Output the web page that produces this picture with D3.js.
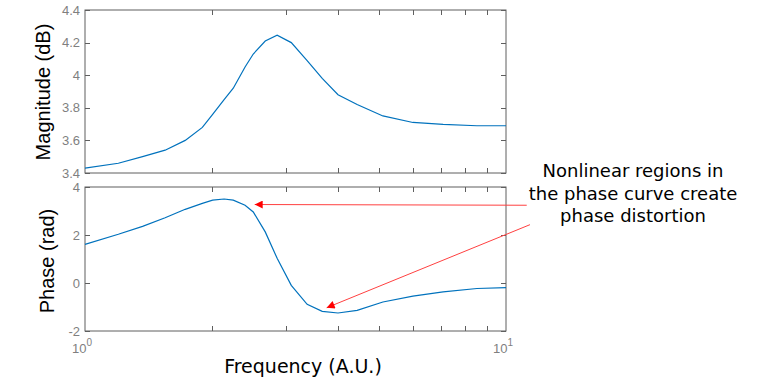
<!DOCTYPE html>
<html>
<head>
<meta charset="utf-8">
<script src="https://cdn.jsdelivr.net/npm/d3@7"></script>
<style>
  body { margin: 0; background: #fff; }
  .tick-label { font-family: "Liberation Sans", Arial, sans-serif; font-size: 13px; fill: #7f7f7f; }
  .ax-title { font-family: "Liberation Sans", Arial, sans-serif; font-size: 20px; fill: #000; }
  .note { font-family: "DejaVu Sans", Verdana, sans-serif; font-size: 18px; fill: #000; }
</style>
</head>
<body>
<div id="chart"></div>
<script>
// Data
var freq = [1, 1.2, 1.37, 1.55, 1.73, 1.9, 2.01, 2.14, 2.25, 2.4, 2.51, 2.68, 2.86,
  3.09, 3.37, 3.66, 3.99, 4.43, 5.1, 6.01, 7.09, 8.53, 10];
var magnitude = [3.43, 3.46, 3.50, 3.54, 3.60, 3.68, 3.76, 3.85, 3.92, 4.05, 4.13, 4.21, 4.245,
  4.20, 4.09, 3.98, 3.88, 3.82, 3.75, 3.71, 3.698, 3.69, 3.69];
var phase = [1.61, 2.03, 2.36, 2.72, 3.07, 3.32, 3.45, 3.50, 3.45, 3.24, 2.96, 2.13, 1.03,
  -0.10, -0.89, -1.18, -1.25, -1.14, -0.79, -0.55, -0.37, -0.23, -0.19];

var magTicks = [3.4, 3.6, 3.8, 4, 4.2, 4.4];
var phaseTicks = [-2, 0, 2, 4];
var minorFreqTicks = [2, 3, 4, 5, 6, 7, 8, 9];
var decadeLabels = [{ v: 1, exp: "0" }, { v: 10, exp: "1" }];

var noteLines = ["Nonlinear regions in", "the phase curve create", "phase distortion"];
// arrows: from the note to the curve, in (frequency, phase) units
var arrows = [
  { from: [11.2, 3.24], to: [2.53, 3.27] },
  { from: [11.4, 2.43], to: [3.75, -1.03] }
];

// Define SVG area dimensions
var svgWidth = 760;
var svgHeight = 389;

var plotLeft = 85;
var plotRight = 506;

var svg = d3.select("#chart")
  .append("svg")
  .attr("width", svgWidth)
  .attr("height", svgHeight);

var defs = svg.append("defs");
defs.append("marker")
  .attr("id", "head")
  .attr("viewBox", "0 0 10 10")
  .attr("refX", 10)
  .attr("refY", 5)
  .attr("markerUnits", "userSpaceOnUse")
  .attr("markerWidth", 10)
  .attr("markerHeight", 8)
  .attr("orient", "auto")
  .append("path")
  .attr("d", "M0,0 L10,5 L0,10 Z")
  .attr("fill", "#ff0000");

var xScale = d3.scaleLog()
  .domain([1, 10])
  .range([plotLeft, plotRight]);

// Draws one panel: box, inward ticks, y labels, curve
function drawPanel(top, bottom, yDomain, yTicks, values, fmt) {
  var yScale = d3.scaleLinear()
    .domain(yDomain)
    .range([bottom, top]);

  var g = svg.append("g");
  var tickLen = 5;

  g.append("rect")
    .attr("x", plotLeft)
    .attr("y", top)
    .attr("width", plotRight - plotLeft)
    .attr("height", bottom - top)
    .attr("fill", "none")
    .attr("stroke", "#5f5f5f")
    .attr("stroke-width", 1);

  // x minor ticks on bottom and top edges
  minorFreqTicks.forEach(function(f) {
    var x = Math.round(xScale(f)) + 0.5;
    g.append("line")
      .attr("x1", x).attr("x2", x)
      .attr("y1", bottom).attr("y2", bottom - tickLen)
      .attr("stroke", "#5f5f5f");
    g.append("line")
      .attr("x1", x).attr("x2", x)
      .attr("y1", top).attr("y2", top + tickLen)
      .attr("stroke", "#5f5f5f");
  });

  // y ticks on left and right edges, labels on the left
  yTicks.forEach(function(t) {
    var y = Math.round(yScale(t)) + 0.5;
    g.append("line")
      .attr("x1", plotLeft).attr("x2", plotLeft + tickLen)
      .attr("y1", y).attr("y2", y)
      .attr("stroke", "#5f5f5f");
    g.append("line")
      .attr("x1", plotRight).attr("x2", plotRight - tickLen)
      .attr("y1", y).attr("y2", y)
      .attr("stroke", "#5f5f5f");
    g.append("text")
      .classed("tick-label", true)
      .attr("x", plotLeft - 5)
      .attr("y", yScale(t))
      .attr("dy", "0.35em")
      .attr("text-anchor", "end")
      .text(fmt(t));
  });

  var line = d3.line()
    .x(function(d, i) { return xScale(freq[i]); })
    .y(function(d) { return yScale(d); });

  g.append("path")
    .datum(values)
    .attr("d", line)
    .attr("fill", "none")
    .attr("stroke", "#0072BD")
    .attr("stroke-width", 1.2);

  return yScale;
}

var magScale = drawPanel(10, 173, [3.4, 4.4], magTicks, magnitude, function(t) { return String(+t.toFixed(1)); });
var phaseScale = drawPanel(187, 331, [-2, 4], phaseTicks, phase, function(t) { return String(t); });

// Decade labels under the lower panel
decadeLabels.forEach(function(d) {
  var t = svg.append("text")
    .classed("tick-label", true)
    .attr("x", xScale(d.v) - 3)
    .attr("y", 353)
    .attr("text-anchor", "middle");
  t.append("tspan").text("10");
  t.append("tspan")
    .attr("dy", -7)
    .attr("font-size", "10px")
    .text(d.exp);
});

// Axis titles
svg.append("text")
  .classed("ax-title", true)
  .attr("transform", "translate(50, 92) rotate(-90)")
  .attr("text-anchor", "middle")
  .text("Magnitude (dB)");

svg.append("text")
  .classed("ax-title", true)
  .attr("transform", "translate(54, 261) rotate(-90)")
  .attr("text-anchor", "middle")
  .text("Phase (rad)");

svg.append("text")
  .attr("x", 303)
  .attr("y", 373)
  .attr("text-anchor", "middle")
  .attr("font-family", "DejaVu Sans, Verdana, sans-serif")
  .attr("font-size", "19px")
  .text("Frequency (A.U.)");

// Annotation text
svg.selectAll(".note")
  .data(noteLines)
  .enter()
  .append("text")
  .classed("note", true)
  .attr("x", 633)
  .attr("y", function(d, i) { return 177 + i * 22.5; })
  .attr("text-anchor", "middle")
  .text(function(d) { return d; });

// Red arrows
svg.selectAll(".arrow")
  .data(arrows)
  .enter()
  .append("line")
  .classed("arrow", true)
  .attr("x1", function(d) { return xScale(d.from[0]); })
  .attr("y1", function(d) { return phaseScale(d.from[1]); })
  .attr("x2", function(d) { return xScale(d.to[0]); })
  .attr("y2", function(d) { return phaseScale(d.to[1]); })
  .attr("stroke", "#ff4040")
  .attr("stroke-width", 1)
  .attr("marker-end", "url(#head)");
</script>
</body>
</html>
